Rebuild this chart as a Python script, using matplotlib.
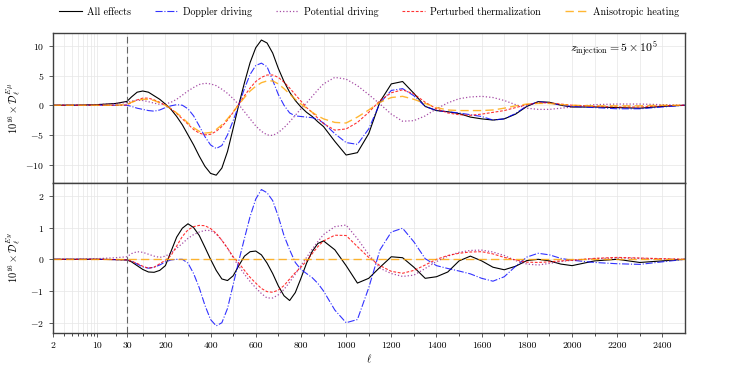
import numpy as np
import matplotlib
matplotlib.use('Agg')
import matplotlib.pyplot as plt
from matplotlib.scale import FuncScale
from matplotlib.ticker import FixedLocator, FixedFormatter, NullFormatter

plt.rcParams['font.family'] = 'serif'
plt.rcParams['font.serif'] = ['cmr10', 'DejaVu Serif']
plt.rcParams['mathtext.fontset'] = 'cm'
plt.rcParams['axes.formatter.use_mathtext'] = True
plt.rcParams['axes.unicode_minus'] = True

# multipoles (log part 2-30, linear afterwards)
ell = ([2, 5, 10, 20, 30]
       + list(range(50, 901, 25))
       + list(range(950, 2001, 50))
       + [2100, 2200, 2300, 2400, 2500])

# E-mu cross spectrum (upper panel), units of 1e-16
emu_all = [0, 0.02, 0.1, 0.3, 0.65,
           1.4, 2.2, 2.4, 2.2, 1.6, 1.0, 0.2, -0.7, -1.9, -3.3, -5.0, -6.7, -8.6, -10.3, -11.5, -11.8, -10.6,
           -7.8, -3.9, 0.1, 3.8, 7.2, 9.7, 11.0, 10.5, 8.8, 6.2, 4.0, 2.2, 0.8, -0.3, -1.2, -1.9, -2.8, -3.6,
           -6.1, -8.4, -8.0, -4.8, 0.6, 3.6, 4.0, 2.0, -0.2, -0.9, -1.1, -1.4, -2.0, -2.3, -2.5, -2.3, -1.5,
           -0.2, 0.6, 0.5, 0.0, -0.3,
           -0.3, -0.4, -0.5, -0.2, 0.0]
emu_doppler = [0, 0, 0, 0, 0,
               -0.2, -0.5, -0.7, -0.9, -1.0, -0.8, -0.4, -0.1, 0.1, 0.0, -0.6, -1.8, -3.5, -5.3, -6.7, -7.3, -6.8,
               -5.0, -2.6, 0.0, 2.8, 5.2, 6.7, 7.1, 6.5, 4.2, 1.8, 0.0, -1.3, -1.8, -1.9, -2.0, -2.1, -2.4, -3.0,
               -4.8, -6.3, -6.6, -4.0, 0.4, 2.5, 2.8, 1.6, -0.2, -0.9, -1.1, -1.3, -1.6, -1.9, -2.5, -2.3, -1.4,
               -0.1, 0.6, 0.4, 0.0, -0.2,
               -0.4, -0.6, -0.6, -0.3, 0.0]
emu_potential = [0, 0.02, 0.1, 0.3, 0.45,
                 0.7, 0.85, 0.8, 0.6, 0.35, 0.15, 0.2, 0.5, 1.0, 1.7, 2.4, 3.0, 3.5, 3.7, 3.6, 3.3, 2.7,
                 2.0, 1.1, 0.1, -1.1, -2.3, -3.5, -4.4, -5.0, -5.1, -4.6, -3.8, -2.8, -1.7, -0.6, 0.4, 1.5, 2.6, 3.6,
                 4.7, 4.4, 3.3, 1.8, 0.2, -1.5, -2.7, -2.6, -1.8, -0.6, 0.4, 1.1, 1.4, 1.5, 1.3, 0.8, 0.1,
                 -0.5, -0.7, -0.7, -0.5, -0.3,
                 0.1, 0.2, 0.2, 0.1, 0.0]
emu_therm = [0, 0, 0, 0, 0.05,
             0.5, 0.9, 1.2, 1.2, 0.9, 0.5, 0.0, -0.6, -1.4, -2.3, -3.2, -4.1, -4.7, -5.0, -4.9, -4.4, -3.6,
             -2.5, -1.2, 0.2, 1.6, 2.9, 4.0, 4.7, 5.1, 5.1, 4.7, 3.9, 2.9, 1.8, 0.7, -0.4, -1.2, -2.2, -3.1,
             -4.2, -4.0, -2.9, -1.2, 0.8, 2.1, 2.6, 1.9, 0.5, -0.6, -1.3, -1.6, -1.7, -1.5, -1.2, -0.9, -0.4,
             0.1, 0.4, 0.4, 0.2, 0.0,
             -0.2, -0.3, -0.3, -0.1, 0.0]
emu_aniso = [0, 0, 0, 0, 0.1,
             0.5, 0.8, 1.0, 1.0, 0.8, 0.4, 0.0, -0.6, -1.3, -2.1, -3.0, -3.8, -4.4, -4.7, -4.6, -4.1, -3.3,
             -2.3, -1.1, 0.1, 1.3, 2.4, 3.2, 3.8, 4.1, 4.1, 3.6, 2.8, 1.9, 1.0, 0.2, -0.5, -1.2, -1.8, -2.3,
             -2.9, -3.0, -2.0, -0.8, 0.5, 1.3, 1.5, 1.0, 0.3, -0.4, -0.8, -0.9, -0.9, -0.9, -0.8, -0.5, -0.1,
             0.2, 0.3, 0.3, 0.1, 0.0,
             -0.1, -0.1, -0.1, 0.0, 0.0]

# E-y cross spectrum (lower panel), units of 1e-16
ey_all = [0, 0, 0, -0.01, -0.02,
          -0.08, -0.2, -0.32, -0.4, -0.41, -0.35, -0.2, 0.25, 0.7, 0.98, 1.12, 1.0, 0.75, 0.38, 0.0, -0.35, -0.62,
          -0.67, -0.52, -0.2, 0.1, 0.24, 0.26, 0.14, -0.12, -0.45, -0.84, -1.15, -1.3, -1.05, -0.6, -0.12, 0.25,
          0.5, 0.58,
          0.3, -0.2, -0.75, -0.6, -0.25, 0.08, 0.05, -0.25, -0.6, -0.55, -0.4, -0.05, 0.1, -0.05, -0.25, -0.33,
          -0.22, -0.04, 0.0, -0.05, -0.15, -0.2,
          -0.05, 0.0, -0.1, -0.05, 0.0]
ey_doppler = [0, 0, 0, -0.01, -0.02,
              -0.05, -0.15, -0.24, -0.28, -0.25, -0.18, -0.08, -0.02, 0.0, 0.0, -0.12, -0.45, -0.9, -1.45, -1.9,
              -2.1, -2.0, -1.55, -0.8, -0.05, 0.66, 1.35, 1.9, 2.2, 2.1, 1.85, 1.35, 0.75, 0.3, -0.1, -0.32, -0.45,
              -0.58, -0.76, -1.0,
              -1.6, -2.0, -1.9, -0.9, 0.3, 0.86, 0.98, 0.55, 0.02, -0.2, -0.29, -0.37, -0.46, -0.6, -0.69, -0.55,
              -0.22, 0.07, 0.19, 0.14, 0.03, -0.03,
              -0.1, -0.14, -0.16, -0.08, 0.0]
ey_potential = [0, 0.0, 0.02, 0.05, 0.08,
                0.18, 0.24, 0.22, 0.16, 0.1, 0.06, 0.1, 0.2, 0.35, 0.5, 0.66, 0.78, 0.86, 0.91, 0.91, 0.8, 0.6,
                0.35, 0.05, -0.22, -0.47, -0.7, -0.9, -1.08, -1.22, -1.22, -1.12, -0.95, -0.72, -0.47, -0.2, 0.06,
                0.32, 0.56, 0.78,
                1.03, 1.08, 0.65, 0.15, -0.28, -0.45, -0.54, -0.5, -0.29, -0.07, 0.1, 0.22, 0.28, 0.29, 0.23, 0.12,
                -0.04, -0.15, -0.18, -0.13, -0.07, -0.03,
                0.02, 0.04, 0.03, 0.01, 0.0]
ey_therm = [0, 0, 0, -0.01, -0.02,
            -0.06, -0.13, -0.22, -0.28, -0.25, -0.14, -0.03, 0.12, 0.42, 0.72, 0.93, 1.03, 1.07, 1.06, 0.97, 0.82,
            0.6, 0.35, 0.08, -0.12, -0.35, -0.57, -0.75, -0.92, -1.02, -1.04, -0.97, -0.83, -0.62, -0.42, -0.25,
            -0.05, 0.18, 0.4, 0.58,
            0.76, 0.75, 0.4, 0.06, -0.2, -0.38, -0.44, -0.35, -0.18, 0.0, 0.12, 0.19, 0.23, 0.24, 0.17, 0.06,
            -0.02, -0.09, -0.1, -0.08, -0.05, -0.03,
            0.03, 0.06, 0.04, 0.02, 0.0]
ey_aniso = [0.0] * len(ell)

# piecewise log/linear ell axis
LOG_FRAC = 0.117

def fwd(x):
    x = np.asarray(x, dtype=float)
    lo = LOG_FRAC * np.log10(np.clip(x, 1e-6, None) / 2) / np.log10(15)
    hi = LOG_FRAC + (1 - LOG_FRAC) * (x - 30) / 2470
    return np.where(x <= 30, lo, hi)

def inv(y):
    y = np.asarray(y, dtype=float)
    lo = 2 * 15 ** (np.clip(y, -3, LOG_FRAC) / LOG_FRAC)
    hi = 30 + (y - LOG_FRAC) / (1 - LOG_FRAC) * 2470
    return np.where(y <= LOG_FRAC, lo, hi)

styles = [
    ('All effects', dict(color='black', ls='-', lw=0.8)),
    ('Doppler driving', dict(color='blue', ls='-.', lw=0.8, alpha=0.8)),
    ('Potential driving', dict(color='purple', ls=':', lw=0.9, alpha=0.7)),
    ('Perturbed thermalization', dict(color='red', ls='--', lw=0.8, alpha=0.8, dashes=(2.5, 1.5))),
    ('Anisotropic heating', dict(color='orange', ls='--', lw=1.0, alpha=0.8, dashes=(6, 3))),
]

fig = plt.figure(figsize=(7.47, 3.74), dpi=100)
ax1 = fig.add_axes([0.071, 0.511, 0.846, 0.401])
ax2 = fig.add_axes([0.071, 0.110, 0.846, 0.401], sharex=ax1)

upper = [emu_all, emu_doppler, emu_potential, emu_therm, emu_aniso]
lower = [ey_all, ey_doppler, ey_potential, ey_therm, ey_aniso]

for (name, st), y in zip(styles, upper):
    ax1.plot(ell, y, label=name, **st)
for (name, st), y in zip(styles, lower):
    ax2.plot(ell, y, **st)

major = [2, 10, 30] + list(range(200, 2401, 200))
minor = [3, 4, 5, 6, 7, 8, 9, 20] + list(range(100, 2500, 200))

for ax in (ax1, ax2):
    ax.set_xscale(FuncScale(ax, (fwd, inv)))
    ax.set_xlim(2, 2500)
    ax.xaxis.set_major_locator(FixedLocator(major))
    ax.xaxis.set_minor_locator(FixedLocator(minor))
    ax.xaxis.set_minor_formatter(NullFormatter())
    ax.axvline(30, color='0.4', lw=0.8, dashes=(6, 3))
    ax.grid(True, which='both', color='0.9', lw=0.5)
    ax.set_axisbelow(True)
    for s in ax.spines.values():
        s.set_color('0.25')
        s.set_linewidth(1.0)
    ax.tick_params(labelsize=7, width=0.6, length=3, colors='0.25', labelcolor='black')
    ax.tick_params(which='minor', length=1.8, width=0.5)

ax2.xaxis.set_major_formatter(FixedFormatter([str(v) for v in major]))
ax1.tick_params(labelbottom=False)

ax1.set_ylim(-13.1, 12.2)
ax1.set_yticks([-10, -5, 0, 5, 10])
ax2.set_ylim(-2.32, 2.41)
ax2.set_yticks([-2, -1, 0, 1, 2])

ax1.set_ylabel(r'$10^{16} \times \mathcal{D}_\ell^{E\mu}$', fontsize=7.6)
ax2.set_ylabel(r'$10^{16} \times \mathcal{D}_\ell^{Ey}$', fontsize=7.6)
ax1.yaxis.set_label_coords(-0.047, 0.5)
ax2.yaxis.set_label_coords(-0.047, 0.5)
ax2.set_xlabel(r'$\ell$', fontsize=7.5, labelpad=2)

ax1.text(0.956, 0.895, r'$z_{\rm injection} = 5 \times 10^5$', transform=ax1.transAxes,
         ha='right', va='center', fontsize=8.5)

fig.legend(loc='center', bbox_to_anchor=(0.494, 0.968), ncol=5, frameon=False, fontsize=7.2,
           handlelength=2.3, handletextpad=0.5, columnspacing=2.4)

fig.savefig('out.png', dpi=100)
